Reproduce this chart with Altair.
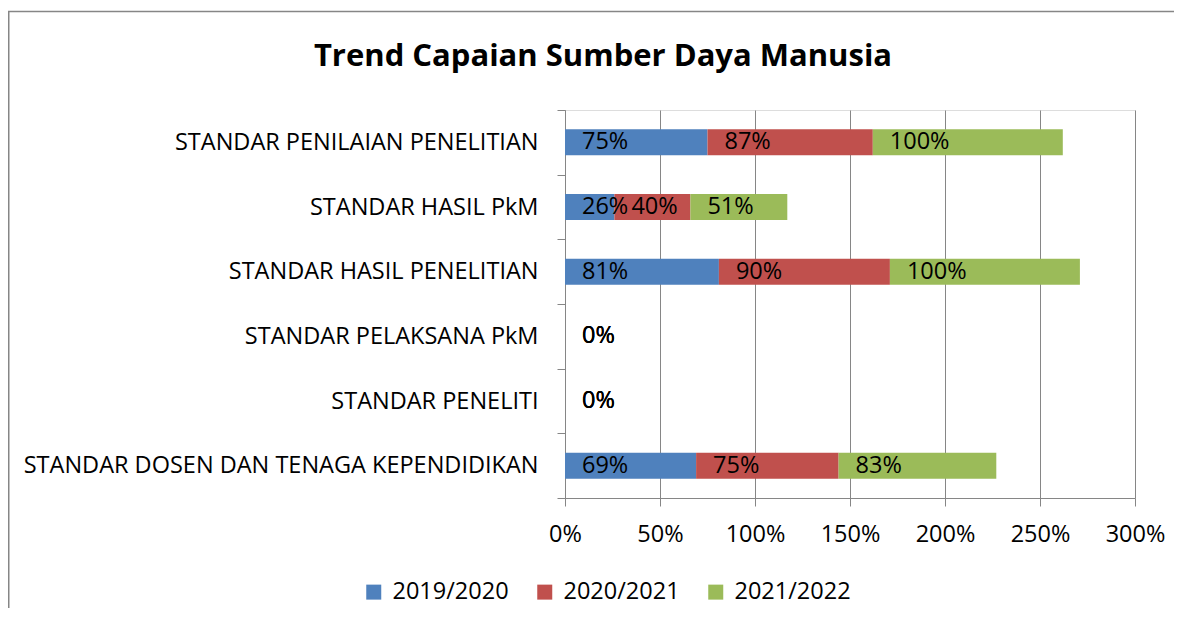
import altair as alt
import pandas as pd

title_text = "Trend Capaian Sumber Daya Manusia"
categories = [
    "STANDAR PENILAIAN PENELITIAN",
    "STANDAR HASIL PkM",
    "STANDAR HASIL PENELITIAN",
    "STANDAR PELAKSANA PkM",
    "STANDAR PENELITI",
    "STANDAR DOSEN DAN TENAGA KEPENDIDIKAN",
]
series = ["2019/2020", "2020/2021", "2021/2022"]
v2019 = [75, 26, 81, 0, 0, 69]
v2020 = [87, 40, 90, 0, 0, 75]
v2021 = [100, 51, 100, 0, 0, 83]
colors = ["#4F81BD", "#C0504D", "#9BBB59"]
x_ticks = [0, 50, 100, 150, 200, 250, 300]

rows = []
for i, cat in enumerate(categories):
    start = 0
    for j, (s, vals) in enumerate(zip(series, [v2019, v2020, v2021])):
        v = vals[i]
        rows.append({"category": cat, "series": s, "order": j, "value": v,
                     "start": start, "end": start + v, "label": f"{v}%"})
        start += v
df = pd.DataFrame(rows)

FONT = "Open Sans"
FS = 23.5
W, H = 570, 388

y_enc = alt.Y("category:N", sort=categories, title=None,
              scale=alt.Scale(paddingInner=0, paddingOuter=0),
              axis=alt.Axis(tickBand="extent", labelFontSize=FS, labelFont=FONT,
                            labelColor="black", tickSize=8, labelPadding=19,
                            domainColor="#868686", tickColor="#868686", grid=False,
                            labelLimit=700))
x_scale = alt.Scale(domain=[0, 300], nice=False, zero=True)

bars = alt.Chart(df).mark_bar(size=26).encode(
    x=alt.X("start:Q", scale=x_scale, title=None,
            axis=alt.Axis(values=x_ticks, labelExpr="datum.value + '%'",
                          labelFontSize=FS, labelFont=FONT, labelColor="black",
                          labelFlush=False, labelOverlap=False,
                          tickSize=8, labelPadding=16, domainColor="#868686",
                          tickColor="#868686", gridColor="#868686", grid=True)),
    x2="end:Q",
    y=y_enc,
    color=alt.Color("series:N", scale=alt.Scale(domain=series, range=colors),
                    legend=alt.Legend(title=None, orient="none", legendX=-203, legendY=470,
                                      direction="horizontal", symbolType="square",
                                      symbolSize=225, symbolStrokeWidth=0,
                                      labelFontSize=FS, labelFont=FONT, labelColor="black",
                                      labelOffset=7, columnPadding=24, padding=0)),
    order=alt.Order("order:Q"),
)

labels = alt.Chart(df).mark_text(align="left", baseline="middle", dx=17,
                                 fontSize=FS, font=FONT, color="black").encode(
    x=alt.X("start:Q", scale=x_scale),
    y=alt.Y("category:N", sort=categories),
    text="label:N",
)

one_row = pd.DataFrame([{"title": title_text}])
title_mark = alt.Chart(one_row).mark_text(
    fontSize=31, font=FONT, fontWeight="bold", color="black",
    align="center", baseline="alphabetic").encode(
    x=alt.value(38), y=alt.value(-44), text="title:N")
left_line = alt.Chart(one_row).mark_rule(color="#868686", strokeWidth=2).encode(
    x=alt.value(-556.5), y=alt.value(-98.5), y2=alt.value(H + 130))
top_line = alt.Chart(one_row).mark_rule(color="#868686", strokeWidth=1.5).encode(
    x=alt.value(-557), x2=alt.value(W + 60), y=alt.value(-98.5))

chart = alt.layer(bars, labels, title_mark, left_line, top_line).properties(
    width=W, height=H,
    autosize=alt.AutoSizeParams(type="none"),
    padding={"left": 557, "top": 102, "right": 39, "bottom": 110},
).configure_view(stroke=None).configure(background="white")

chart.save("out.html", embed_options={"renderer": "svg", "actions": False})
